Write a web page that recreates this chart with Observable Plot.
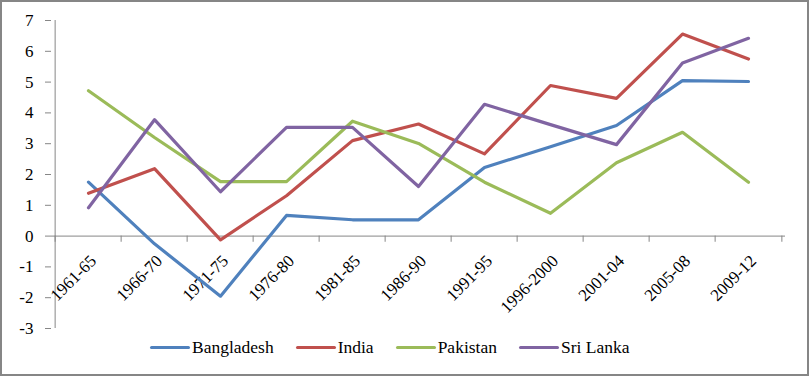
<!DOCTYPE html>
<html>
<head>
<meta charset="utf-8">
<script src="https://cdn.jsdelivr.net/npm/d3@7"></script>
<script src="https://cdn.jsdelivr.net/npm/@observablehq/plot@0.6"></script>
</head>
<body style="margin:0;padding:0;background:#fff;font-family:'Liberation Serif'">
<div id="frame" style="width:809px;height:376px;box-sizing:border-box;border:2px solid #868686;background:#fff;position:relative;overflow:hidden;font-family:'Liberation Serif'">
  <div id="chart"></div>
  <div id="legend" style="position:absolute;left:148px;top:335px;display:flex;align-items:center;font-family:'Liberation Serif';font-size:17.5px;line-height:20px;color:#000"></div>
</div>
<script>
const categories = ["1961-65","1966-70","1971-75","1976-80","1981-85","1986-90","1991-95","1996-2000","2001-04","2005-08","2009-12"];
const seriesNames = ["Bangladesh","India","Pakistan","Sri Lanka"];
const bangladesh = [1.75,-0.25,-1.95,0.67,0.53,0.53,2.23,2.9,3.59,5.05,5.02];
const india      = [1.39,2.19,-0.12,1.31,3.1,3.64,2.67,4.89,4.47,6.56,5.75];
const pakistan   = [4.72,3.2,1.77,1.77,3.73,3.01,1.75,0.74,2.38,3.37,1.75];
const sriLanka   = [0.92,3.78,1.44,3.53,3.53,1.61,4.28,3.62,2.97,5.62,6.42];
const yTicks = [-3,-2,-1,0,1,2,3,4,5,6,7];
const colors = ["#4F81BD","#C0504D","#9BBB59","#8064A2"];

const seriesValues = [bangladesh, india, pakistan, sriLanka];
const data = [];
seriesNames.forEach((s, i) => categories.forEach((c, j) => data.push({series: s, period: c, value: seriesValues[i][j]})));

const FONT = "Liberation Serif";
const W = 805, H = 338, ML = 49, MR = 22;
const half = (W - ML - MR) / categories.length / 2;

const plot = Plot.plot({
  width: W, height: H,
  marginLeft: ML, marginRight: MR, marginTop: 18, marginBottom: 12,
  style: {fontFamily: FONT, fontSize: "17px", color: "#000", background: "#fff", display: "block"},
  x: {type: "point", domain: categories, padding: 0.5, axis: null},
  y: {domain: [-3, 7], range: [326, 18], ticks: yTicks, tickSize: 6, tickPadding: 12, label: null, tickFormat: d => d < 0 ? "-" + Math.abs(d) : String(d)},
  color: {domain: seriesNames, range: colors},
  marks: [
    Plot.ruleX([categories[0]], {x: d => d, y1: -3, y2: 7, dx: -half, stroke: "#868686"}),
    Plot.ruleY([0], {stroke: "#868686"}),
    Plot.ruleX(categories, {x: d => d, y1: 0, y2: -0.2, dx: -half, stroke: "#868686"}),
    Plot.ruleX([categories[categories.length - 1]], {x: d => d, y1: 0, y2: -0.2, dx: half, stroke: "#868686"}),
    Plot.text(categories, {x: d => d, y: 0, text: d => d, rotate: -45, textAnchor: "end", dx: 5, dy: 22, fontSize: 17, fontFamily: FONT, fill: "#000"}),
    Plot.line(data, {x: "period", y: "value", z: "series", stroke: "series", strokeWidth: 3.2, strokeLinejoin: "round", strokeLinecap: "round"})
  ]
});
plot.setAttribute("font-family", FONT);
plot.querySelectorAll('g[aria-label^="y-axis"]').forEach(g => {
  g.setAttribute("font-family", FONT);
  g.querySelectorAll("path, line").forEach(p => p.setAttribute("stroke", "#868686"));
});
plot.querySelectorAll("text").forEach(t => t.style.fontFamily = FONT);
document.getElementById("chart").appendChild(plot);

const legend = document.getElementById("legend");
seriesNames.forEach((s, i) => {
  const it = document.createElement("div");
  it.style.cssText = "display:flex;align-items:center;margin-right:22px";
  const sw = document.createElement("div");
  sw.style.cssText = "width:40px;height:3px;border-radius:2px;margin-right:2px;background:" + colors[i];
  const t = document.createElement("span");
  t.style.fontFamily = FONT;
  t.textContent = s;
  it.appendChild(sw); it.appendChild(t);
  legend.appendChild(it);
});
</script>
</body>
</html>
